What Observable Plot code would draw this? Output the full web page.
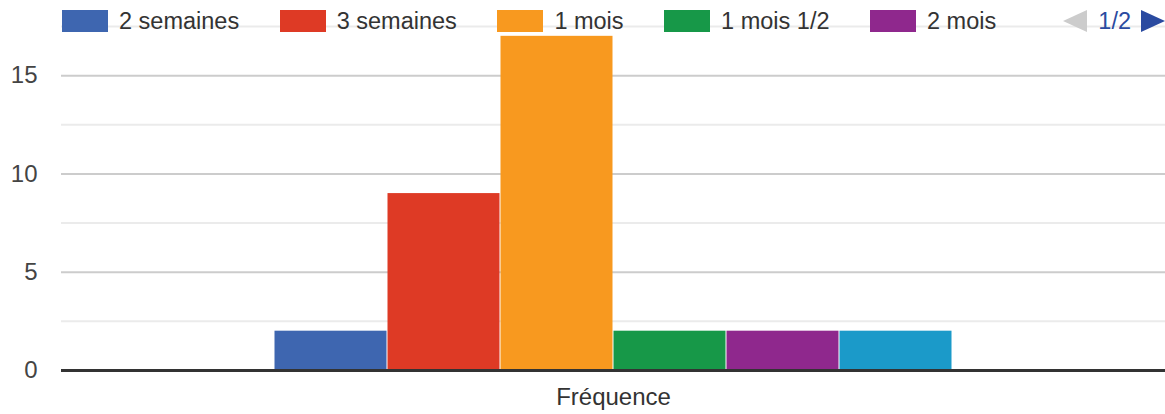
<!DOCTYPE html>
<html>
<head>
<meta charset="utf-8">
<script src="https://cdn.jsdelivr.net/npm/d3@7"></script>
<script src="https://cdn.jsdelivr.net/npm/@observablehq/plot@0.6"></script>
<style>
  html, body { margin: 0; padding: 0; background: #fff; }
  #wrap { position: relative; width: 1165px; height: 414px; font-family: "Liberation Sans", Arial, sans-serif; }
  #legend { position: absolute; top: 10px; left: 62px; right: 0; height: 22px; display: flex; align-items: center; font-size: 23.5px; color: #333; }
  .item { display: flex; align-items: center; margin-right: 40.5px; }
  .sw { width: 46px; height: 22px; margin-right: 11px; }
  #pager { position: absolute; right: 0; top: 0; height: 22px; display: flex; align-items: center; font-size: 23.5px; color: #2a4aa0; }
  .tri-l { width: 0; height: 0; border-top: 11px solid transparent; border-bottom: 11px solid transparent; border-right: 24px solid #cccccc; margin-right: 11px; }
  .tri-r { width: 0; height: 0; border-top: 11px solid transparent; border-bottom: 11px solid transparent; border-left: 24px solid #2a4aa0; margin-left: 10px; }
</style>
</head>
<body>
<div id="wrap">
  <div id="chart"></div>
  <div id="legend"></div>
</div>
<script>
const series = ["2 semaines", "3 semaines", "1 mois", "1 mois 1/2", "2 mois", "Plus de 2 mois"];
const values = [2, 9, 17, 2, 2, 2];
const colors = ["#3e66b0", "#de3a25", "#f8991f", "#179848", "#8f288d", "#1b9ac9"];
const categories = ["Fréquence"];
const majorTicks = [0, 5, 10, 15];
const minorTicks = [2.5, 7.5, 12.5, 17.5];
const legendPage = "1/2";
const legendCount = 5;

const table = series.map((s, i) => ({series: s, value: values[i]}));

const chart = Plot.plot({
  width: 1165,
  height: 414,
  marginLeft: 61,
  marginRight: 0,
  marginTop: 26,
  marginBottom: 44,
  style: {fontFamily: "'Liberation Sans', Arial, sans-serif", fontSize: "24px", color: "#444", background: "transparent"},
  x: {domain: series, paddingInner: 0, paddingOuter: 1.85, axis: null},
  y: {domain: [0, 17.5], axis: null},
  color: {domain: series, range: colors},
  marks: [
    Plot.ruleY(minorTicks, {stroke: "#ebebeb", strokeWidth: 2}),
    Plot.ruleY(majorTicks.filter(d => d !== 0), {stroke: "#cccccc", strokeWidth: 2}),
    Plot.barY(table, {x: "series", y: "value", fill: "series", insetLeft: 0.5, insetRight: 0.5}),
    Plot.ruleY([0], {stroke: "#333333", strokeWidth: 3}),
    Plot.axisY({ticks: majorTicks, tickSize: 0, tickPadding: 24, label: null, fontSize: 24}),
    Plot.text(categories, {text: d => d, frameAnchor: "bottom", dy: 34, fontSize: 24, fill: "#333"})
  ]
});
document.getElementById("chart").appendChild(chart);

const legend = document.getElementById("legend");
series.slice(0, legendCount).forEach((s, i) => {
  const item = document.createElement("div");
  item.className = "item";
  const sw = document.createElement("div");
  sw.className = "sw";
  sw.style.background = colors[i];
  const tx = document.createElement("span");
  tx.textContent = s;
  item.appendChild(sw);
  item.appendChild(tx);
  legend.appendChild(item);
});
const pager = document.createElement("div");
pager.id = "pager";
const tl = document.createElement("div"); tl.className = "tri-l";
const pt = document.createElement("span"); pt.textContent = legendPage;
const tr = document.createElement("div"); tr.className = "tri-r";
pager.appendChild(tl); pager.appendChild(pt); pager.appendChild(tr);
legend.appendChild(pager);
</script>
</body>
</html>
